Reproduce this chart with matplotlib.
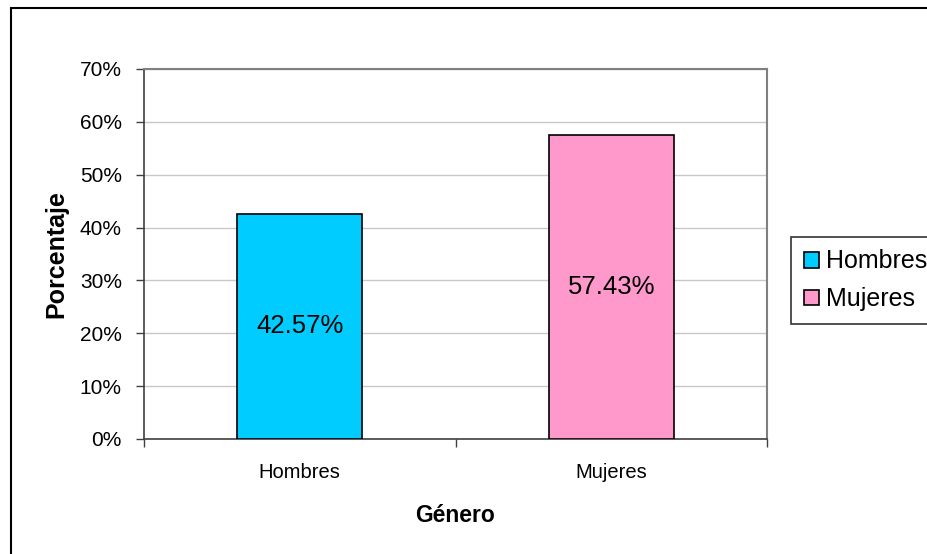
import matplotlib.pyplot as plt
from matplotlib.patches import Rectangle

categorias = ["Hombres", "Mujeres"]
porcentajes = [42.57, 57.43]
colores = ["#00CCFF", "#FF99CC"]
yticks = [0, 10, 20, 30, 40, 50, 60, 70]

plt.rcParams['font.family'] = ['Liberation Sans', 'DejaVu Sans']

fig = plt.figure(figsize=(9.27, 5.54), dpi=100)
# outer chart frame (runs off the right and bottom edges)
fig.patches.append(Rectangle((11 / 927, -0.05), 1.0, 1 - 8 / 554 + 0.05,
                             transform=fig.transFigure, fill=False,
                             edgecolor="black", linewidth=1.5))

ax = fig.add_axes([144 / 927, 1 - 439 / 554, 623 / 927, 370 / 554])

x = range(len(categorias))
barras = ax.bar(x, porcentajes, width=0.4, color=colores,
                edgecolor="black", linewidth=1.2, zorder=3)
for xi, v in zip(x, porcentajes):
    ax.text(xi, v / 2, f"{v:.2f}%", ha="center", va="center", fontsize=18.5)

ax.set_xlim(-0.5, 1.5)
ax.set_ylim(0, 70)
ax.set_yticks(yticks)
ax.set_yticklabels([f"{t}%" for t in yticks], fontsize=15)
ax.yaxis.grid(True, color="#c8c8c8", linewidth=1, zorder=0)

# category boundaries get the tick marks, labels sit between them
ax.set_xticks([-0.5, 0.5, 1.5])
ax.set_xticklabels([])
ax.set_xticks(list(x), minor=True)
ax.set_xticklabels(categorias, minor=True, fontsize=14.5)
ax.tick_params(axis="x", which="minor", length=0, pad=17)
ax.tick_params(axis="x", which="major", length=6, width=1, color="#404040")
ax.tick_params(axis="y", length=6, width=1, color="#404040", pad=10)

for side in ["top", "right"]:
    ax.spines[side].set_color("#808080")
    ax.spines[side].set_linewidth(1.5)
for side in ["left", "bottom"]:
    ax.spines[side].set_color("#404040")
    ax.spines[side].set_linewidth(1.2)

ax.set_ylabel("Porcentaje", fontsize=18, fontweight="bold", labelpad=8)
ax.set_xlabel("Género", fontsize=16.5, fontweight="bold", labelpad=16)

leg = ax.legend(barras, categorias, loc="upper left",
                bbox_to_anchor=(791 / 927, 1 - 237 / 554),
                bbox_transform=fig.transFigure, fontsize=18,
                frameon=True, fancybox=False, edgecolor="black",
                handlelength=0.6, handleheight=0.6, handletextpad=0.3,
                borderpad=0.5, labelspacing=0.55, borderaxespad=0)
leg.get_frame().set_linewidth(1.2)

fig.savefig("out.png", dpi=100)
